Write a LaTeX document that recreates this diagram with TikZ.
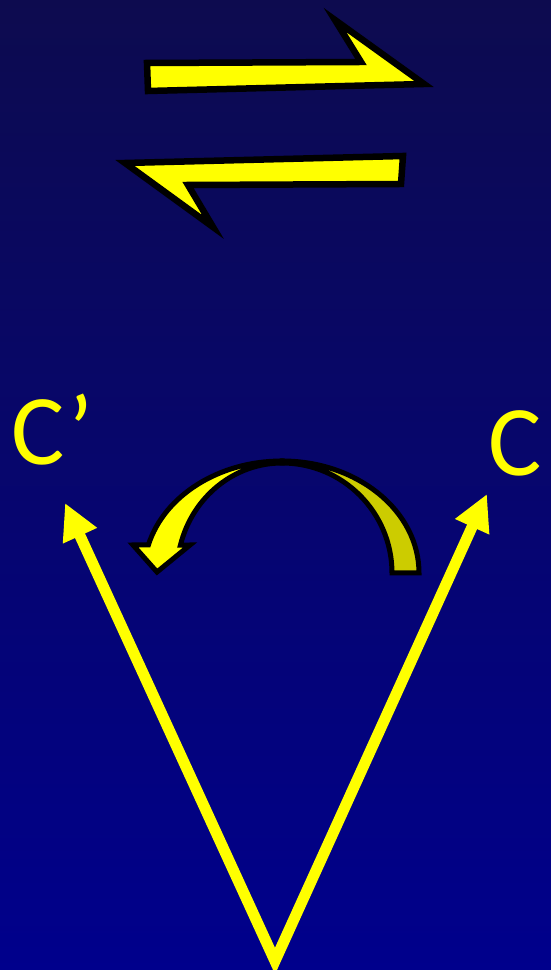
\documentclass[tikz,border=0pt]{standalone}
\usepackage{fontspec}
\setmainfont{Carlito}
\usetikzlibrary{arrows.meta}
\definecolor{bgtop}{HTML}{0D0B4F}
\definecolor{bgbot}{HTML}{00008C}
\definecolor{yel}{HTML}{FFFF00}
\definecolor{dyel}{HTML}{CCCC00}
\begin{document}
\begin{tikzpicture}[x=1pt,y=1pt,
  blockarrow/.style={fill=yel,draw=black,line width=6.5pt,line join=miter,miter limit=20},
  ribbon/.style={draw=black,line width=5pt,line join=miter,miter limit=20},
  vec/.style={draw=yel,line width=11pt,line join=miter,
    {Triangle[length=36pt,width=35pt]}-{Triangle[length=36pt,width=35pt]}},
  lbl/.style={text=yel,font=\fontsize{100}{100}\selectfont,inner sep=0pt}]
\useasboundingbox (0,0) rectangle (551,970);
\shade[top color=bgtop,bottom color=bgbot] (0,0) rectangle (551,970);
% forward / backward block arrows
\draw[blockarrow] (147,907) -- (361,908) -- (335,950) -- (424,886) -- (148,879) -- cycle;
\draw[blockarrow] (125,807) -- (403,814) -- (401,786) -- (188,785) -- (213,743) -- cycle;
% curved ribbon arrow
\coordinate (rc) at (282,397);
\filldraw[ribbon,fill=dyel] (419,397) arc[start angle=0,end angle=90,x radius=137pt,y radius=112pt]
  -- (282,507) arc[start angle=90,end angle=0,x radius=110pt,y radius=110pt] -- cycle;
\filldraw[ribbon,fill=yel] (282,509) arc[start angle=90,end angle=165.5,x radius=138pt,y radius=112pt]
  -- (133,425) -- (157,398) -- (190,425)
  -- ([shift={(rc)}]165.3:105pt and 110pt)
  arc[start angle=165.3,end angle=90,x radius=105pt,y radius=110pt] -- cycle;
% vectors
\coordinate (o) at (275,9);
\coordinate (cpt) at (65,467);
\coordinate (ct) at (487,476);
\draw[vec] (cpt) -- (o) -- (ct);
% labels
\node[lbl,anchor=base west] (cprime) at (11,505) {C’};
\node[lbl,anchor=base west] (c) at (488,494) {C};
\end{tikzpicture}
\end{document}
